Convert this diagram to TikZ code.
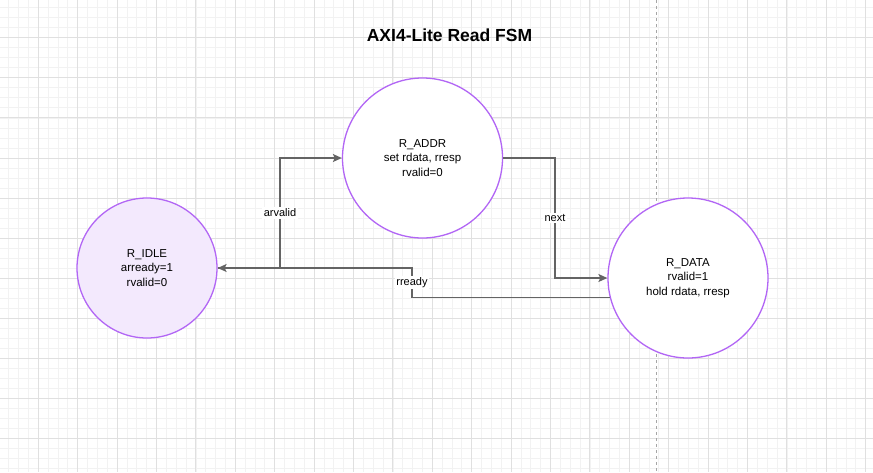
\documentclass[tikz,border=0pt]{standalone}
\usepackage{fontspec}
\setmainfont{Liberation Sans}
\usetikzlibrary{arrows.meta}

\definecolor{stateline}{RGB}{178,102,245}
\definecolor{idlefill}{RGB}{243,233,253}
\definecolor{wire}{RGB}{100,100,100}

\tikzset{
  state/.style = {circle, draw = stateline, line width = 1.3pt, fill = white,
    minimum size = 160pt, inner sep = 0pt, align = center,
    font = \fontsize{11.5}{14.5}\selectfont},
  wire/.style = {draw = wire, line width = 1.3pt, -{Stealth[length = 9pt, width = 8pt, inset = 2pt]}},
  cond/.style = {fill = white, inner sep = 1.5pt, font = \fontsize{11}{13}\selectfont}
}

\begin{document}
\begin{tikzpicture}[x = 1pt, y = -1pt]
\useasboundingbox (0,0) rectangle (873,472);
\fill [white] (0,0) rectangle (873,472);
\foreach \i in {1,...,88}
  \draw [line width = 0.8pt, black!5] ({-1.1 + 9.85*\i},0) -- ++(0,472);
\foreach \j in {1,...,47}
  \draw [line width = 0.8pt, black!5] (0,{-2.4 + 10.025*\j}) -- ++(873,0);
\foreach \i in {0,...,21}
  \draw [line width = 1pt, black!12] ({38.3 + 39.4*\i},0) -- ++(0,472);
\foreach \j in {0,...,10}
  \draw [line width = 1pt, black!12] (0,{37.7 + 40.1*\j}) -- ++(873,0);
\draw [line width = 1pt, black!35, dash pattern = on 3pt off 3pt] (656,0) -- (656,472);

\node (title) at (449.5,35) {\bfseries\fontsize{17.5}{20}\selectfont AXI4-Lite Read FSM};

\node [state, fill = idlefill, minimum size = 140pt] (idle) at (147,268) {R\_IDLE\\arready=1\\rvalid=0};
\node [state] (addr) at (422.5,158) {R\_ADDR\\set rdata, rresp\\rvalid=0};
\node [state] (data) at (688,278) {R\_DATA\\rvalid=1\\hold rdata, rresp};

\draw [wire] (idle.east) -- (280,268) |- node [cond, pos = 0.25] {arvalid} (addr.west);
\draw [wire] (addr.east) -| node [cond, pos = 0.75] {next} (555,278) -- (data.west);
\draw [wire] (data.194.6) -| node [cond, pos = 0.75] {rready} (412,268) -- (idle.east);
\end{tikzpicture}
\end{document}
